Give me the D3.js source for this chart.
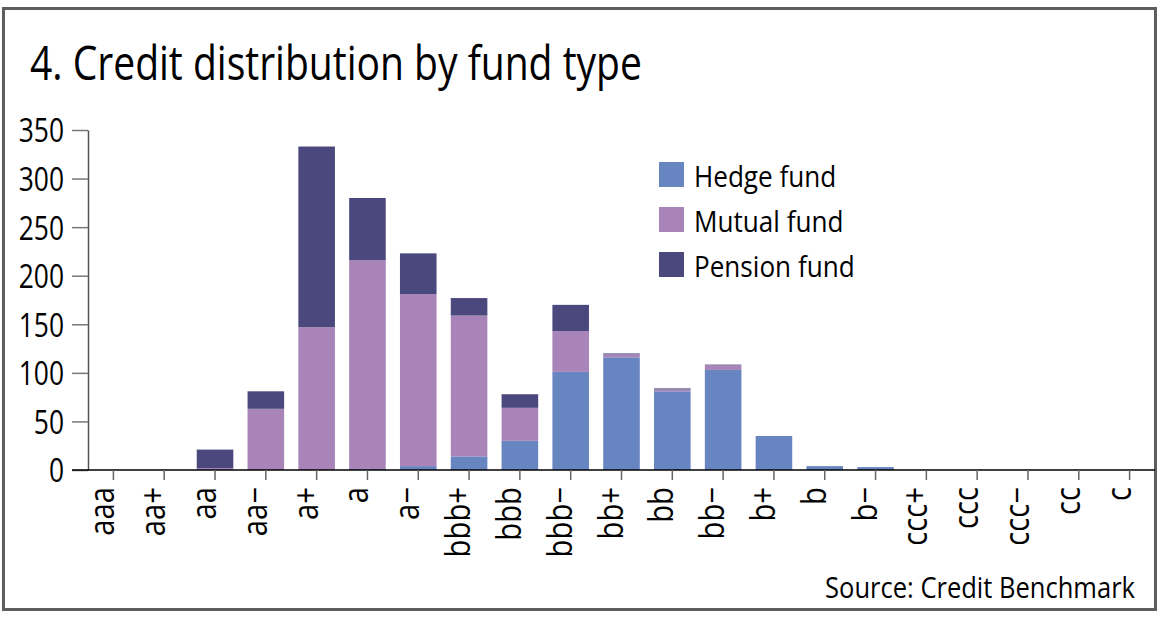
<!DOCTYPE html>
<html>
<head>
<meta charset="utf-8">
<script src="https://cdn.jsdelivr.net/npm/d3@7"></script>
<style>
  html, body { margin: 0; padding: 0; background: #fff; }
  svg { display: block; }
  text { font-family: "Open Sans", "Noto Sans", sans-serif; fill: #000; }
</style>
</head>
<body>
<svg id="chart" width="1160" height="617"></svg>
<script>
const categories = ["aaa","aa+","aa","aa−","a+","a","a−","bbb+","bbb","bbb−","bb+","bb","bb−","b+","b","b−","ccc+","ccc","ccc−","cc","c"];
const hedgeFund   = [0,0,0,0,0,1,4,14,30,101,116,81,103,35,4,3,0,0,0,0,0];
const mutualFund  = [0,0,2,63,147,215,177,145,34,42,3,2,5,0,0,0,0,0,0,0,0];
const pensionFund = [0,0,19,18,186,64,42,18,14,27,1,1,0.5,0,0,0,0,0,0,0,0];
const seriesNames = ["Hedge fund","Mutual fund","Pension fund"];
const seriesColors = ["#6785c1","#a884b8","#4a487c"];
const yTicks = [0,50,100,150,200,250,300,350];
const titleText = "4. Credit distribution by fund type";
const sourceText = "Source: Credit Benchmark";

const svg = d3.select("#chart");
const condense = (sel, f) => sel.each(function(){
  const L = this.getComputedTextLength();
  d3.select(this).attr("textLength", L * f).attr("lengthAdjust", "spacingAndGlyphs");
});

// frame
svg.append("rect").attr("x", 3.5).attr("y", 8.5).attr("width", 1152).attr("height", 601)
  .attr("fill", "none").attr("stroke", "#5e5e5e").attr("stroke-width", 3);

// title
svg.append("text").attr("x", 30).attr("y", 80).attr("font-size", 48).text(titleText)
  .call(condense, 0.813);

const x = d3.scaleBand().domain(categories).range([88, 1155]).paddingInner(0.28).paddingOuter(0.14);
const y = d3.scaleLinear().domain([0, 350]).range([470, 130]);

const rows = categories.map((c, i) => ({cat: c, h: hedgeFund[i], m: mutualFund[i], p: pensionFund[i]}));
const stack = d3.stack().keys(["h","m","p"])(rows);

svg.append("g").selectAll("g").data(stack).join("g")
  .attr("fill", (d, i) => seriesColors[i])
  .selectAll("rect").data(d => d).join("rect")
  .attr("x", d => x(d.data.cat))
  .attr("width", x.bandwidth())
  .attr("y", d => y(d[1]))
  .attr("height", d => Math.max(0, y(d[0]) - y(d[1])));

// y axis
const yAxis = svg.append("g").attr("transform", "translate(88,0)")
  .call(d3.axisLeft(y).tickValues(yTicks).tickSize(16).tickSizeOuter(0).tickPadding(8));
yAxis.select(".domain").attr("stroke", "#555").attr("stroke-width", 1.5);
yAxis.selectAll(".tick line").attr("stroke", "#777").attr("stroke-width", 1.5);
yAxis.selectAll(".tick text").attr("font-size", 33).attr("font-family", "Open Sans")
  .attr("fill", "#000").attr("dy", "0.36em").call(condense, 0.8);

// x axis
const xAxis = svg.append("g").attr("transform", "translate(0,470)")
  .call(d3.axisBottom(x).tickSize(10).tickSizeOuter(0));
xAxis.select(".domain").attr("d", "M72,0H1155").attr("stroke", "#000").attr("stroke-width", 1.5);
xAxis.selectAll(".tick line").attr("stroke", "#666").attr("stroke-width", 1.5);
xAxis.selectAll(".tick text").remove();
svg.append("g").selectAll("text").data(categories).join("text")
  .attr("transform", d => `translate(${x(d) + x.bandwidth() / 2 + 1},487) rotate(-90)`)
  .attr("text-anchor", "end")
  .attr("font-size", 34)
  .text(d => d)
  .call(condense, 0.86);

// legend
const lg = svg.append("g");
seriesNames.forEach((name, i) => {
  const yy = 162 + i * 45;
  lg.append("rect").attr("x", 659).attr("y", yy).attr("width", 25).attr("height", 25).attr("fill", seriesColors[i]);
  lg.append("text").attr("x", 694).attr("y", yy + 25).attr("font-size", 30).text(name).call(condense, 0.87);
});

// source
svg.append("text").attr("x", 1135).attr("y", 598).attr("text-anchor", "end").attr("font-size", 29)
  .text(sourceText).call(condense, 0.88);
</script>
</body>
</html>
